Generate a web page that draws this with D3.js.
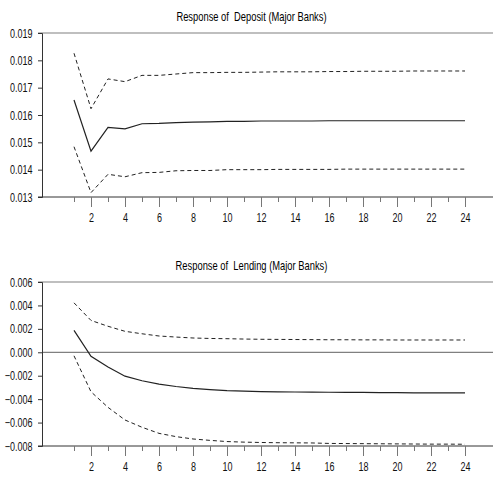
<!DOCTYPE html>
<html>
<head>
<meta charset="utf-8">
<script src="https://cdn.jsdelivr.net/npm/d3@7"></script>
<style>
  body { margin: 0; background: #fff; }
  svg { display: block; font-family: "Liberation Sans", Arial, sans-serif; }
  .title { font-size: 13px; white-space: pre; }
  .tick text { font-size: 12.5px; fill: #111; }
</style>
</head>
<body>
<svg width="493" height="478"></svg>
<script>
var periods = d3.range(1, 25);

// Response of Deposit (Major Banks)
var depositMid = [0.01655, 0.01468, 0.01555, 0.01549, 0.01568, 0.01569, 0.01572, 0.01574, 0.01575, 0.01577, 0.01577, 0.01578,
                  0.01578, 0.01578, 0.01578, 0.01579, 0.01579, 0.01579, 0.01579, 0.01579, 0.01579, 0.01579, 0.01579, 0.01579];
var depositUp = [0.01826, 0.01623, 0.01732, 0.01722, 0.01745, 0.01745, 0.01750, 0.01755, 0.01755, 0.01756, 0.01756, 0.01757,
                 0.01758, 0.01758, 0.01758, 0.01759, 0.01759, 0.01760, 0.01760, 0.01760, 0.01761, 0.01761, 0.01761, 0.01761];
var depositLo = [0.01484, 0.01316, 0.01383, 0.01374, 0.01389, 0.01390, 0.01396, 0.01397, 0.01397, 0.01400, 0.01400, 0.01400,
                 0.01401, 0.01401, 0.01401, 0.01401, 0.01402, 0.01402, 0.01402, 0.01402, 0.01402, 0.01402, 0.01402, 0.01402];

// Response of Lending (Major Banks)
var lendingMid = [0.00187, -0.00034, -0.00125, -0.00204, -0.00243, -0.00272, -0.00292, -0.00308, -0.00319, -0.00328, -0.00332, -0.00336,
                  -0.00338, -0.00339, -0.00340, -0.00341, -0.00342, -0.00342, -0.00345, -0.00345, -0.00346, -0.00346, -0.00346, -0.00346];
var lendingUp = [0.00422, 0.00272, 0.00222, 0.00179, 0.00158, 0.00139, 0.00130, 0.00122, 0.00118, 0.00116, 0.00113, 0.00111,
                 0.00110, 0.00109, 0.00108, 0.00107, 0.00107, 0.00106, 0.00106, 0.00105, 0.00105, 0.00105, 0.00105, 0.00105];
var lendingLo = [-0.00030, -0.00337, -0.00470, -0.00578, -0.00640, -0.00692, -0.00720, -0.00740, -0.00752, -0.00762, -0.00767, -0.00770,
                 -0.00772, -0.00773, -0.00774, -0.00778, -0.00779, -0.00780, -0.00781, -0.00782, -0.00783, -0.00784, -0.00784, -0.00785];

var depositTicks = [0.013, 0.014, 0.015, 0.016, 0.017, 0.018, 0.019];
var lendingTicks = [-0.008, -0.006, -0.004, -0.002, 0.000, 0.002, 0.004, 0.006];

var svg = d3.select("svg");

// narrow look of the original font
var squeeze = 0.72;

var x = d3.scaleLinear().domain([1, 24]).range([74, 465]);
var left = 42, right = 493;

function panel(opts) {
    var g = svg.append("g");
    var y = d3.scaleLinear().domain(opts.domain).range([opts.bottom, opts.top]);

    g.append("text")
        .attr("class", "title")
        .attr("x", 251.5 / squeeze)
        .attr("y", opts.top - 12)
        .attr("transform", "scale(" + squeeze + ",1)")
        .attr("text-anchor", "middle")
        .text(opts.title);

    // top frame line
    g.append("line")
        .attr("x1", 38).attr("x2", right)
        .attr("y1", opts.top).attr("y2", opts.top)
        .attr("stroke", "#808080").attr("stroke-width", 1.2);

    if (opts.zero) {
        g.append("line")
            .attr("x1", left).attr("x2", right)
            .attr("y1", y(0)).attr("y2", y(0))
            .attr("stroke", "#808080").attr("stroke-width", 1.2);
    }

    var yAxis = g.append("g")
        .attr("transform", "translate(" + left + ",0)")
        .call(d3.axisLeft(y).tickValues(opts.ticks).tickSize(4).tickPadding(5).tickFormat(d3.format(".3f")));
    yAxis.select(".domain").attr("stroke", "#333");
    yAxis.selectAll(".tick line").attr("stroke", "#333");
    yAxis.selectAll(".tick text")
        .attr("x", -9.5 / squeeze)
        .attr("transform", "scale(" + squeeze + ",1)");

    var xAxis = g.append("g")
        .attr("transform", "translate(0," + opts.bottom + ")")
        .call(d3.axisBottom(x).tickValues(periods).tickSize(10).tickPadding(6)
            .tickFormat(function(d) { return d % 2 === 0 ? d : ""; }));
    xAxis.select(".domain").attr("d", "M" + (left - 4) + ",0H" + right).attr("stroke", "#333");
    xAxis.selectAll(".tick line")
        .attr("stroke", "#777")
        .attr("y2", function(d) { return d % 2 === 0 ? 10 : 5; });
    xAxis.selectAll(".tick text")
        .attr("transform", "scale(" + squeeze + ",1)");

    var line = d3.line()
        .x(function(d, i) { return x(periods[i]); })
        .y(function(d) { return y(d); });

    g.append("path").datum(opts.up).attr("d", line)
        .attr("fill", "none").attr("stroke", "#222").attr("stroke-width", 1)
        .attr("stroke-dasharray", "4,3");
    g.append("path").datum(opts.lo).attr("d", line)
        .attr("fill", "none").attr("stroke", "#222").attr("stroke-width", 1)
        .attr("stroke-dasharray", "4,3");
    g.append("path").datum(opts.mid).attr("d", line)
        .attr("fill", "none").attr("stroke", "#222").attr("stroke-width", 1.2);
}

panel({
    title: "Response of  Deposit (Major Banks)",
    domain: [0.013, 0.019], ticks: depositTicks,
    top: 33, bottom: 197,
    mid: depositMid, up: depositUp, lo: depositLo
});

panel({
    title: "Response of  Lending (Major Banks)",
    domain: [-0.008, 0.006], ticks: lendingTicks,
    top: 282, bottom: 446, zero: true,
    mid: lendingMid, up: lendingUp, lo: lendingLo
});
</script>
</body>
</html>
